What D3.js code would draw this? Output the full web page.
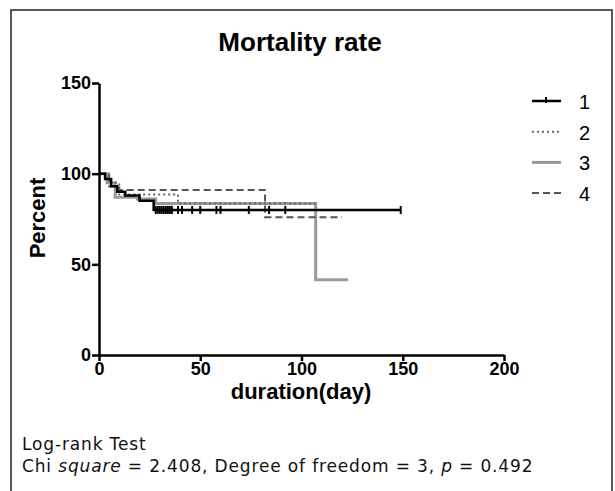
<html>
<head>
<script src="https://d3js.org/d3.v7.min.js"></script>
<style>
  body { margin: 0; background: white; }
</style>
</head>
<body>
<div id="output"></div>
</body>
</html>

<script>
    var width = 615;
    var height = 491;

    // survival steps [day, percent], last point is the end of follow-up
    var series1 = [[0, 100], [3, 97], [6, 93], [9, 90], [13, 88], [20, 85], [27, 80], [149, 80]];
    var series2 = [[0, 100], [5, 95], [10, 88.5], [39, 83.5], [107, 83.5]];
    var series3 = [[0, 100], [4, 95], [8, 87], [19, 86], [28, 83.5], [107, 41.5], [123, 41.5]];
    var series4 = [[0, 100], [5, 93], [10, 91], [82, 76], [120, 76]];

    // censored days on curve 1
    var censor1 = [28, 29, 30, 31, 32, 33, 34, 35, 36, 39, 41, 46, 50, 58, 60, 74, 84, 92, 149];

    var legendLabels = ['1', '2', '3', '4'];
    var xTicks = [0, 50, 100, 150, 200];
    var yTicks = [0, 50, 100, 150];

    var styles = [
        {stroke: '#000', width: 2.5, dash: null},
        {stroke: '#666', width: 2, dash: '2,3'},
        {stroke: '#999', width: 3, dash: null},
        {stroke: '#555', width: 2, dash: '7,4'}
    ];

    var font = 'Arial, "Liberation Sans", sans-serif';

    var svg = d3.select('#output').append('svg')
        .attr('width', width)
        .attr('height', height);

    // frame
    svg.append('rect')
        .attr('x', 11).attr('y', 10)
        .attr('width', 601).attr('height', 500)
        .attr('fill', 'none')
        .attr('stroke', '#222')
        .attr('stroke-width', 1.5);

    var x = d3.scaleLinear().domain([0, 200]).range([99, 504]);
    var y = d3.scaleLinear().domain([0, 150]).range([355, 83]);

    var line = d3.line()
        .x(d => x(d[0]))
        .y(d => y(d[1]))
        .curve(d3.curveStepAfter);

    // draw order: grey underneath, black on top
    var order = [2, 3, 1, 0];
    var all = [series1, series2, series3, series4];
    order.forEach(i => {
        svg.append('path')
            .attr('d', line(all[i]))
            .attr('fill', 'none')
            .attr('stroke', styles[i].stroke)
            .attr('stroke-width', styles[i].width)
            .attr('stroke-dasharray', styles[i].dash);
    });

    // censor ticks on curve 1
    svg.selectAll('.cens')
        .data(censor1)
        .enter().append('line')
        .attr('x1', d => x(d)).attr('x2', d => x(d))
        .attr('y1', y(80) - 4).attr('y2', y(80) + 4)
        .attr('stroke', '#000')
        .attr('stroke-width', 2);

    // axes
    var xAxis = svg.append('g')
        .attr('transform', 'translate(0,355)')
        .call(d3.axisBottom(x).tickValues(xTicks).tickSize(6).tickSizeOuter(0));
    var yAxis = svg.append('g')
        .attr('transform', 'translate(99,0)')
        .call(d3.axisLeft(y).tickValues(yTicks).tickSize(7).tickSizeOuter(0));

    [xAxis, yAxis].forEach(g => {
        g.select('.domain').attr('stroke', '#000').attr('stroke-width', 2.5);
        g.selectAll('.tick line').attr('stroke', '#000').attr('stroke-width', 2.5);
        g.selectAll('.tick text')
            .attr('fill', '#000')
            .style('font-family', font)
            .style('font-weight', 'bold')
            .style('font-size', '18px');
    });
    xAxis.selectAll('.tick text').attr('dy', null).attr('y', 20);
    yAxis.selectAll('.tick text').attr('x', -8);

    // title and labels
    svg.append('text')
        .attr('x', 300).attr('y', 51)
        .attr('text-anchor', 'middle')
        .style('font-family', font)
        .style('font-weight', 'bold')
        .style('font-size', '26px')
        .text('Mortality rate');

    svg.append('text')
        .attr('x', 301).attr('y', 399)
        .attr('text-anchor', 'middle')
        .style('font-family', font)
        .style('font-weight', 'bold')
        .style('font-size', '22px')
        .text('duration(day)');

    svg.append('text')
        .attr('transform', 'translate(45,218) rotate(-90)')
        .attr('text-anchor', 'middle')
        .style('font-family', font)
        .style('font-weight', 'bold')
        .style('font-size', '22px')
        .text('Percent');

    // legend
    var legend = svg.selectAll('.leg')
        .data(legendLabels)
        .enter().append('g')
        .attr('transform', (d, i) => 'translate(0,' + (101 + i * 30.7) + ')');

    legend.append('line')
        .attr('x1', 532).attr('x2', 561)
        .attr('stroke', (d, i) => styles[i].stroke)
        .attr('stroke-width', (d, i) => styles[i].width)
        .attr('stroke-dasharray', (d, i) => styles[i].dash);
    legend.append('line')
        .attr('x1', 546).attr('x2', 546)
        .attr('y1', -4).attr('y2', (d, i) => i == 0 ? 2 : 0)
        .attr('stroke', '#000')
        .attr('stroke-width', (d, i) => i == 0 ? 2 : 0);
    legend.append('text')
        .attr('x', 579).attr('y', 8)
        .style('font-family', font)
        .style('font-size', '20px')
        .text(d => d);

    // test result
    var note = svg.append('text')
        .style('font-family', '"DejaVu Sans", sans-serif')
        .style('font-size', '17px')
        .style('letter-spacing', '0.85px')
        .attr('fill', '#111');
    note.append('tspan').attr('x', 22).attr('y', 450).text('Log-rank Test');
    var l2 = note.append('tspan').attr('x', 22).attr('y', 472);
    l2.append('tspan').text('Chi ');
    l2.append('tspan').style('font-style', 'italic').text('square');
    l2.append('tspan').text(' = 2.408, Degree of freedom = 3, ');
    l2.append('tspan').style('font-style', 'italic').text('p');
    l2.append('tspan').text(' = 0.492');
</script>
